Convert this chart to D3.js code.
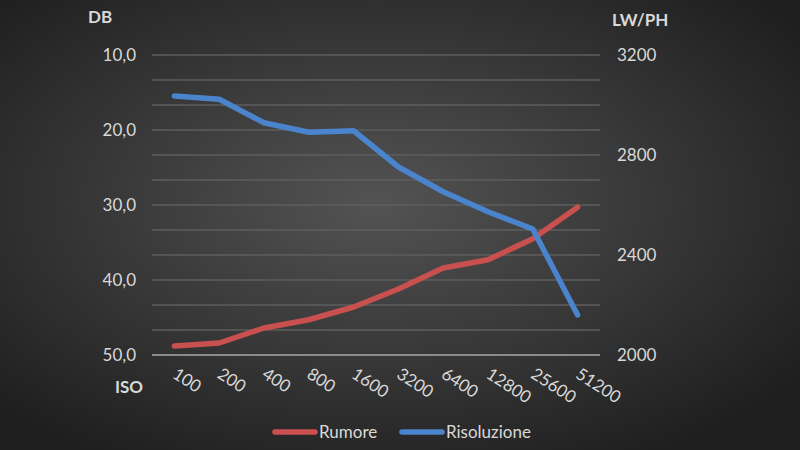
<!DOCTYPE html>
<html><head><meta charset="utf-8">
<script src="https://cdn.jsdelivr.net/npm/d3@7"></script>
<style>html,body{margin:0;padding:0;background:#222;}svg{display:block;}</style>
</head><body>
<svg id="c" width="800" height="450"></svg>
<script>
const categories = ["100","200","400","800","1600","3200","6400","12800","25600","51200"];
const rumore = [48.8, 48.4, 46.4, 45.3, 43.6, 41.2, 38.4, 37.3, 34.5, 30.3];
const risoluzione = [3036, 3023, 2929, 2891, 2897, 2752, 2653, 2573, 2504, 2160];
const leftTicks = [10, 20, 30, 40, 50];
const rightTicks = [2000, 2400, 2800, 3200];
const seriesNames = ["Rumore", "Risoluzione"];
const colors = ["#c8504f", "#4a84cc"];

const svg = d3.select("#c");
const W = 800, H = 450;
const defs = svg.append("defs");
const rg = defs.append("radialGradient").attr("id","bg").attr("cx","47%").attr("cy","45%").attr("r","65%");
rg.append("stop").attr("offset","0%").attr("stop-color","#535353");
rg.append("stop").attr("offset","100%").attr("stop-color","#1f1f1f");
svg.append("rect").attr("width",W).attr("height",H).attr("fill","url(#bg)");

const pL = 152, pR = 600, pT = 55, pB = 355;
const x = d3.scaleBand().domain(categories).range([pL, pR]);
const yL = d3.scaleLinear().domain([10, 50]).range([pT, pB]);
const yR = d3.scaleLinear().domain([2000, 3200]).range([pB, pT]);

const font = "Lato, 'Open Sans', sans-serif";
const txt = "#d9d9d9";
const fs = 17;

// gridlines (every 100 on right axis)
const gridVals = d3.range(2100, 3201, 100);
svg.append("g").selectAll("line").data(gridVals).join("line")
  .attr("x1", pL).attr("x2", pR)
  .attr("y1", d => yR(d)).attr("y2", d => yR(d))
  .attr("stroke", "#5e5e5e").attr("stroke-width", 1.3);
// bottom axis line
svg.append("line").attr("x1", pL).attr("x2", pR).attr("y1", pB).attr("y2", pB)
  .attr("stroke", "#a9a9a9").attr("stroke-width", 1.5);

// left axis
const fmt = d => d.toFixed(1).replace(".", ",");
const gl = svg.append("g").attr("transform", `translate(${pL - 16},0)`)
  .call(d3.axisLeft(yL).tickValues(leftTicks).tickFormat(fmt).tickSize(0).tickPadding(0));
gl.select(".domain").remove();
gl.selectAll("text").attr("fill", txt).attr("font-size", fs).attr("font-family", font);

// right axis
const gr = svg.append("g").attr("transform", `translate(${pR + 17},0)`)
  .call(d3.axisRight(yR).tickValues(rightTicks).tickFormat(d3.format("d")).tickSize(0).tickPadding(0));
gr.select(".domain").remove();
gr.selectAll("text").attr("fill", txt).attr("font-size", fs).attr("font-family", font);

// x axis labels rotated
const gx = svg.append("g").attr("transform", `translate(0,${pB})`)
  .call(d3.axisBottom(x).tickSize(0).tickPadding(0));
gx.select(".domain").remove();
gx.selectAll("text")
  .attr("fill", txt).attr("font-size", fs).attr("font-family", font)
  .attr("text-anchor", "start")
  .attr("dy", null).attr("y", 0)
  .attr("transform", "translate(-3,22) rotate(33)");

// axis titles
svg.append("text").attr("x", 88).attr("y", 23).attr("fill", txt).attr("font-size", fs)
  .attr("font-weight", "bold").attr("font-family", font).text("DB");
svg.append("text").attr("x", 612).attr("y", 26).attr("fill", txt).attr("font-size", fs)
  .attr("font-weight", "bold").attr("font-family", font).text("LW/PH");
svg.append("text").attr("x", 115).attr("y", 393).attr("fill", txt).attr("font-size", fs)
  .attr("font-weight", "bold").attr("font-family", font).text("ISO");

// lines
const cx = d => x(d) + x.bandwidth() / 2;
const lineL = d3.line().x((d, i) => cx(categories[i])).y(d => yL(d));
const lineR = d3.line().x((d, i) => cx(categories[i])).y(d => yR(d));
svg.append("path").datum(rumore).attr("d", lineL).attr("fill", "none")
  .attr("stroke", colors[0]).attr("stroke-width", 5.5).attr("stroke-linecap", "round").attr("stroke-linejoin", "round");
svg.append("path").datum(risoluzione).attr("d", lineR).attr("fill", "none")
  .attr("stroke", colors[1]).attr("stroke-width", 5.5).attr("stroke-linecap", "round").attr("stroke-linejoin", "round");

// legend
const legX = [273, 400];
const lg = svg.append("g");
seriesNames.forEach((n, i) => {
  lg.append("line").attr("x1", legX[i] + 2).attr("x2", legX[i] + 42).attr("y1", 432).attr("y2", 432)
    .attr("stroke", colors[i]).attr("stroke-width", 5.5).attr("stroke-linecap", "round");
  lg.append("text").attr("x", legX[i] + 46).attr("y", 438).attr("fill", txt).attr("font-size", fs)
    .attr("font-family", font).text(n);
});
</script>
</body></html>
